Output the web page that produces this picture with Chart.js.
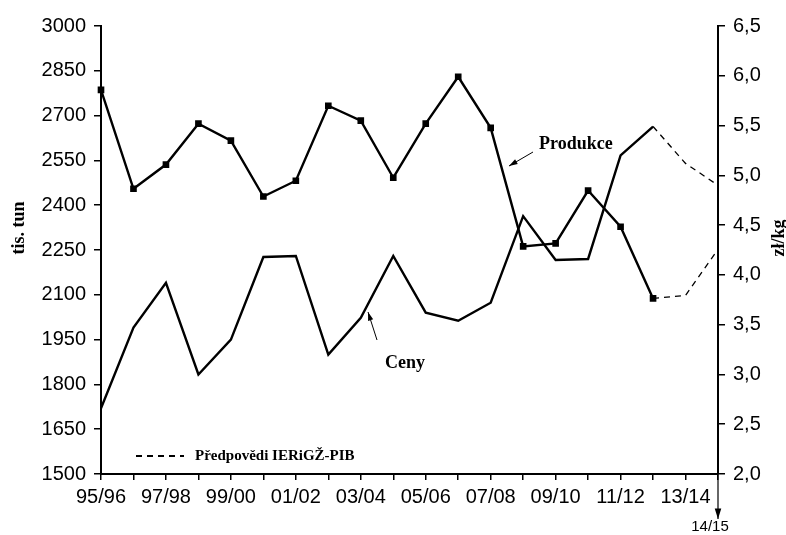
<!DOCTYPE html>
<html>
<head>
    <title>Produkce a ceny</title>
    <script src="https://cdn.jsdelivr.net/npm/chart.js"></script>
    <style>
        body { margin: 0; background: #fff; }
        #wrap { width: 786px; height: 535px; }
    </style>
</head>
<body>
    <div id="wrap">
        <canvas id="chart" width="786" height="535"></canvas>
    </div>

    <script>
    // sezony 95/96 ... 14/15
    const seasons = ['95/96','96/97','97/98','98/99','99/00','00/01','01/02','02/03','03/04','04/05',
                     '05/06','06/07','07/08','08/09','09/10','10/11','11/12','12/13','13/14','14/15'];
    // produkce, tis. tun (levá osa)
    const produkce = [2786, 2455, 2536, 2673, 2616, 2429, 2482, 2733, 2683, 2492,
                      2673, 2830, 2659, 2262, 2272, 2449, 2328, 2088, null, null];
    const produkceForecast = [null, null, null, null, null, null, null, null, null, null,
                              null, null, null, null, null, null, null, 2088, 2098, 2252];
    // ceny, zł/kg (pravá osa)
    const ceny = [2.66, 3.47, 3.92, 3.0, 3.35, 4.18, 4.19, 3.2, 3.57, 4.19,
                  3.62, 3.54, 3.72, 4.59, 4.15, 4.16, 5.2, 5.49, null, null];
    const cenyForecast = [null, null, null, null, null, null, null, null, null, null,
                          null, null, null, null, null, null, null, 5.49, 5.12, 4.9];
    const leftTicks = [1500, 1650, 1800, 1950, 2100, 2250, 2400, 2550, 2700, 2850, 3000];
    const rightTicks = [2.0, 2.5, 3.0, 3.5, 4.0, 4.5, 5.0, 5.5, 6.0, 6.5];

    const tickFont = { family: 'Liberation Sans, Arial, sans-serif', size: 20 };
    const serifBold = 'bold 18px "Liberation Serif", "Times New Roman", serif';

    function arrow(ctx, x1, y1, x2, y2, head) {
        const a = Math.atan2(y2 - y1, x2 - x1);
        ctx.beginPath();
        ctx.moveTo(x1, y1);
        ctx.lineTo(x2, y2);
        ctx.stroke();
        ctx.beginPath();
        ctx.moveTo(x2, y2);
        ctx.lineTo(x2 - head * Math.cos(a - 0.3), y2 - head * Math.sin(a - 0.3));
        ctx.lineTo(x2 - head * Math.cos(a + 0.3), y2 - head * Math.sin(a + 0.3));
        ctx.closePath();
        ctx.fill();
    }

    const annotations = {
        id: 'annotations',
        afterDraw(chart) {
            const ctx = chart.ctx;
            const x = chart.scales.x;
            ctx.save();
            ctx.fillStyle = '#000';
            ctx.strokeStyle = '#000';
            ctx.lineWidth = 1;

            // axis titles
            ctx.font = 'bold 18px "Liberation Serif", serif';
            ctx.textAlign = 'center';
            ctx.textBaseline = 'middle';
            ctx.save();
            ctx.translate(19, 228);
            ctx.rotate(-Math.PI / 2);
            ctx.fillText('tis. tun', 0, 0);
            ctx.restore();
            ctx.save();
            ctx.translate(779, 238);
            ctx.rotate(-Math.PI / 2);
            ctx.fillText('zł/kg', 0, 0);
            ctx.restore();

            // series labels
            ctx.font = serifBold;
            ctx.textAlign = 'left';
            ctx.fillText('Produkce', 539, 144);
            ctx.fillText('Ceny', 385, 363);
            arrow(ctx, 533, 152, 509, 166, 9);
            arrow(ctx, 377, 340, 368, 312, 9);

            // legend for forecast
            ctx.setLineDash([6, 5]);
            ctx.lineWidth = 2.2;
            ctx.beginPath();
            ctx.moveTo(136, 456);
            ctx.lineTo(184, 456);
            ctx.stroke();
            ctx.setLineDash([]);
            ctx.font = 'bold 15px "Liberation Serif", serif';
            ctx.fillText('Předpovědi IERiGŽ-PIB', 195, 456);

            // last season marker below the axis
            const px = x.getPixelForValue(19);
            ctx.lineWidth = 1.2;
            arrow(ctx, px, chart.chartArea.bottom, px, 519, 11);
            ctx.font = '15px "Liberation Sans", Arial, sans-serif';
            ctx.textAlign = 'center';
            ctx.fillText('14/15', px - 8, 527);
            ctx.restore();
        }
    };

    const ctx = document.getElementById('chart').getContext('2d');
    new Chart(ctx, {
        type: 'line',
        data: {
            labels: seasons,
            datasets: [{
                label: 'Produkce',
                data: produkce,
                yAxisID: 'y',
                borderColor: '#000',
                backgroundColor: '#000',
                borderWidth: 2.4,
                pointStyle: 'rect',
                pointRadius: 3,
                tension: 0
            }, {
                label: 'Produkce předpověď',
                data: produkceForecast,
                yAxisID: 'y',
                borderColor: '#000',
                borderWidth: 1.3,
                borderDash: [6, 5],
                pointRadius: 0,
                tension: 0
            }, {
                label: 'Ceny',
                data: ceny,
                yAxisID: 'y1',
                borderColor: '#000',
                borderWidth: 2.4,
                pointRadius: 0,
                tension: 0
            }, {
                label: 'Ceny předpověď',
                data: cenyForecast,
                yAxisID: 'y1',
                borderColor: '#000',
                borderWidth: 1.3,
                borderDash: [6, 5],
                pointRadius: 0,
                tension: 0
            }]
        },
        options: {
            responsive: false,
            animation: false,
            layout: { padding: { top: 26, right: 0, left: 0, bottom: 0 } },
            plugins: {
                legend: { display: false },
                tooltip: { enabled: false }
            },
            scales: {
                x: {
                    type: 'category',
                    offset: false,
                    grid: { drawOnChartArea: false, color: '#000', tickLength: 6, lineWidth: 1.5 },
                    border: { color: '#000', width: 2 },
                    ticks: {
                        autoSkip: false,
                        maxRotation: 0,
                        color: '#000',
                        font: tickFont,
                        padding: 5,
                        callback: function(v, i) {
                            return (i % 2 === 0 && i < 19) ? seasons[i] : '';
                        }
                    },
                    afterFit: function(s) { s.height = 61; }
                },
                y: {
                    position: 'left',
                    min: 1500,
                    max: 3000,
                    grid: { drawOnChartArea: false, color: '#000', tickLength: 7, lineWidth: 1.5 },
                    border: { color: '#000', width: 2 },
                    afterBuildTicks: function(s) { s.ticks = leftTicks.map(v => ({ value: v })); },
                    ticks: { color: '#000', font: tickFont, padding: 8, callback: v => String(v) },
                    afterFit: function(s) { s.width = 101; }
                },
                y1: {
                    position: 'right',
                    min: 2.0,
                    max: 6.5,
                    grid: { drawOnChartArea: false, color: '#000', tickLength: 7, lineWidth: 1.5 },
                    border: { color: '#000', width: 2 },
                    afterBuildTicks: function(s) { s.ticks = rightTicks.map(v => ({ value: v })); },
                    ticks: {
                        color: '#000',
                        font: tickFont,
                        padding: 8,
                        callback: v => v.toFixed(1).replace('.', ',')
                    },
                    afterFit: function(s) { s.width = 68; }
                }
            }
        },
        plugins: [annotations]
    });
    </script>
</body>
</html>
